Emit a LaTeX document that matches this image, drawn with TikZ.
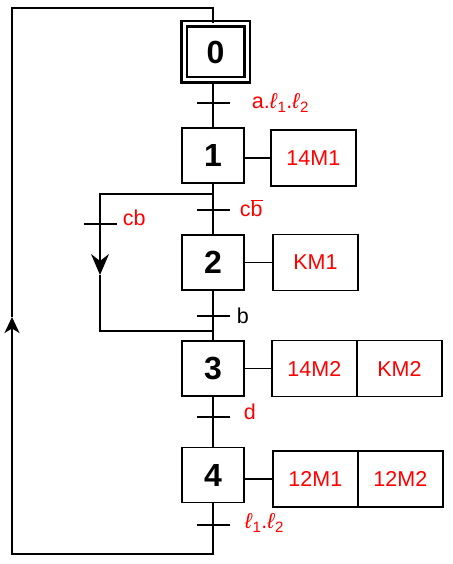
\documentclass[tikz,border=0pt]{standalone}
\usepackage{fontspec}
\setmainfont{Liberation Sans}
\usetikzlibrary{arrows.meta,positioning,calc}
\definecolor{ink}{HTML}{000000}
\definecolor{verm}{HTML}{FF0000}
\newcommand{\lsym}{\textit{ℓ}}

\begin{document}
\begin{tikzpicture}[x=1pt,y=-1pt,>=Stealth,
  stepbox/.style={draw=ink,line width=1.7pt,minimum width=62pt,minimum height=55pt,inner sep=0pt,font=\fontsize{32}{34}\selectfont\bfseries},
  initbox/.style={stepbox,double,line width=2.5pt,double distance=3pt,minimum width=63pt,minimum height=56pt},
  actbox/.style={draw=ink,line width=1.5pt,outer sep=0pt,minimum width=85pt,minimum height=56pt,inner sep=0pt,text=verm,font=\fontsize{21.5}{24}\selectfont},
  trans/.style={fill=ink,inner sep=0pt,minimum width=33pt,minimum height=1.5pt},
  cond/.style={text=verm,inner sep=0pt,font=\fontsize{21.5}{24}\selectfont},
  link/.style={draw=ink,line width=1.4pt},
  backarrow/.style={link,line width=1.8pt,-{Stealth[length=16pt,width=15pt,inset=4.5pt]}},
  skiparrow/.style={link,line width=1.6pt,-{Stealth[length=21pt,width=18pt,inset=7pt]}}]
\useasboundingbox (0,0) rectangle (452,564);

% steps
\node[initbox] (s0) at (215.5,52) {0};
\node[stepbox] (s1) at (213,155.5) {1};
\node[stepbox] (s2) at (213,262.5) {2};
\node[stepbox] (s3) at (213,368.5) {3};
\node[stepbox] (s4) at (213,475) {4};

% transitions and receptivities
\node[trans] (t01) at (213,103) {};
\node[trans] (t12) at (213,210) {};
\node[trans] (t23) at (213,316) {};
\node[trans] (t34) at (213,417) {};
\node[trans] (t40) at (213,525) {};
\node[trans] (tcb) at (100,224) {};
\node[cond,right=22pt of t01] (c01) {a.\lsym\textsubscript{1}.\lsym\textsubscript{2}};
\node[cond,right=10pt of t12,yshift=2pt] (c12) {c$\overline{\mbox{b}}$};
\node[cond,text=ink,right=7pt of t23] (c23) {b};
\node[cond,right=14pt of t34,yshift=5pt] (c34) {d};
\node[cond,right=15pt of t40,yshift=2pt] (c40) {\lsym\textsubscript{1}.\lsym\textsubscript{2}};
\node[cond,right=6pt of tcb,yshift=6pt] (ccb) {cb};

% actions
\node[actbox,right=26pt of s1,yshift=-2.5pt] (a1) {14M1};
\node[actbox,right=28pt of s2] (a2) {KM1};
\node[actbox,right=27pt of s3] (a3) {14M2};
\node[actbox,right=0pt of a3] (a3b) {KM2};
\node[actbox,right=28pt of s4,yshift=-4pt] (a4) {12M1};
\node[actbox,right=0pt of a4] (a4b) {12M2};
\foreach \s/\a in {s1/a1,s2/a2,s3/a3,s4/a4}
  \draw[link] (\a.west) -- (\a.west -| \s.east);

% main sequence
\draw[link] (s0.south -| s1) -- (t01) -- (s1);
\draw[link] (s1) -- (t12) -- (s2);
\draw[link] (s2) -- (t23) -- (s3);
\draw[link] (s3) -- (t34) -- (s4);
\draw[link] (s4) -- (t40);

% skip of step 2
\coordinate (bra) at (213,194);
\coordinate (brb) at (213,331);
\coordinate (cbarr) at (100,275);
\draw[link] (bra) -| (tcb);
\draw[skiparrow] (tcb) -- (cbarr);
\draw[link] (cbarr) |- (brb);

% return to initial step
\coordinate (botr) at (213,554);
\coordinate (uparr) at (12,317);
\coordinate (topl) at (12,8);
\draw[backarrow] (t40) -- (botr) -| (uparr);
\draw[link,line width=1.8pt] (uparr) -- (topl) -| (s0.north -| s1);
\end{tikzpicture}
\end{document}
